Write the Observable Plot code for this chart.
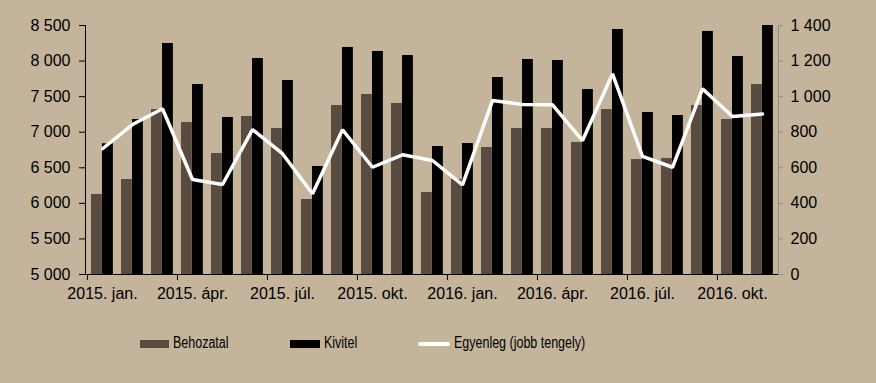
<!DOCTYPE html>
<html>
<head>
<meta charset="utf-8">
<script src="https://cdn.jsdelivr.net/npm/d3@7"></script>
<script src="https://cdn.jsdelivr.net/npm/@observablehq/plot@0.6"></script>
<style>
  html, body { margin: 0; padding: 0; background: #c3b49b; }
  #wrap { position: relative; width: 876px; height: 383px; background: #c3b49b; overflow: hidden; }
  #legend { position: absolute; left: 0; top: 333px; width: 876px; height: 20px;
    font-family: "Liberation Sans", Arial, sans-serif; font-size: 16px; color: #000; }
  .item { position: absolute; top: 0; height: 20px; line-height: 20px; white-space: nowrap; }
  .sw { position: absolute; }
  .txt { position: absolute; top: 0; display: inline-block; transform: scaleX(0.78); transform-origin: left center; }
</style>
</head>
<body>
<div id="wrap">
  <div id="chart"></div>
  <div id="legend"></div>
</div>
<script>
const months = ["2015-01","2015-02","2015-03","2015-04","2015-05","2015-06","2015-07","2015-08","2015-09","2015-10","2015-11","2015-12",
                "2016-01","2016-02","2016-03","2016-04","2016-05","2016-06","2016-07","2016-08","2016-09","2016-10","2016-11"];
const behozatal = [6125, 6335, 7319, 7137, 6701, 7221, 7052, 6054, 7375, 7530, 7404, 6153,
                   6337, 6785, 7052, 7052, 6856, 7319, 6616, 6631, 7375, 7179, 7671];
const kivitel   = [6837, 7179, 8247, 7671, 7207, 8036, 7727, 6518, 8191, 8135, 8078, 6799,
                   6841, 7769, 8022, 8008, 7600, 8444, 7277, 7235, 8416, 8064, 8575];
const egyenleg  = [707, 843, 932, 534, 506, 815, 679, 454, 814, 603, 673, 641,
                   504, 978, 956, 954, 753, 1128, 664, 603, 1044, 888, 903];
const monthNames = ["jan.","febr.","márc.","ápr.","máj.","jún.","júl.","aug.","szept.","okt.","nov.","dec."];
const leftTicks = [5000, 5500, 6000, 6500, 7000, 7500, 8000, 8500];
const rightTicks = [0, 200, 400, 600, 800, 1000, 1200, 1400];
const labelMonths = ["2015-01","2015-04","2015-07","2015-10","2016-01","2016-04","2016-07","2016-10"];
const seriesNames = ["Behozatal", "Kivitel", "Egyenleg (jobb tengely)"];

const colImp = "#5a4b41", colExp = "#000000", colBal = "#ffffff";

const yMin = 5000, yMax = 8500, rMax = 1400;
const toLeft = b => yMin + b * (yMax - yMin) / rMax;
const fromLeft = v => (v - yMin) * rMax / (yMax - yMin);
const fmt = n => d3.format(",")(Math.round(n)).replace(/,/g, "\u00a0");
const monthLabel = m => { const [y, mo] = m.split("-"); return `${y}. ${monthNames[+mo - 1]}`; };

const data = months.map((m, i) => ({m, imp: behozatal[i], exp: kivitel[i], bal: egyenleg[i]}));

const W = 876, H = 320, mL = 85, mR = 98, mT = 25, mB = 46;
const bw = (W - mL - mR) / months.length;
const tickLen = 6 * (yMax - yMin) / (H - mT - mB);

const chart = Plot.plot({
  width: W, height: H,
  marginLeft: mL, marginRight: mR, marginTop: mT, marginBottom: mB,
  style: {background: "transparent", fontFamily: "'Liberation Sans', Arial, sans-serif", fontSize: "16px", color: "#000"},
  x: {type: "band", domain: months, padding: 0, axis: null, label: null},
  y: {domain: [yMin, yMax], axis: null, label: null},
  marks: [
    Plot.barY(data, {x: "m", y1: yMin, y2: "imp", fill: colImp, insetLeft: 4, insetRight: bw - 15, clip: true}),
    Plot.barY(data, {x: "m", y1: yMin, y2: "exp", fill: colExp, insetLeft: 15, insetRight: bw - 26, clip: true}),
    Plot.line(data, {x: "m", y: d => toLeft(d.bal), stroke: colBal, strokeWidth: 3.5, strokeLinejoin: "miter"}),
    Plot.frame({anchor: "left", stroke: "#000"}),
    Plot.frame({anchor: "bottom", stroke: "#000"}),
    Plot.frame({anchor: "right", stroke: "#8c8c8c"}),
    Plot.axisY({anchor: "left", ticks: leftTicks, tickFormat: fmt, tickSize: 6, tickPadding: 9, stroke: "#000", fill: "#000", fontSize: 16, label: null}),
    Plot.axisY({anchor: "right", ticks: rightTicks.map(toLeft), tickFormat: v => fmt(fromLeft(v)), tickSize: 4, tickPadding: 8, stroke: "#8c8c8c", fill: "#000", fontSize: 16, label: null}),
    Plot.ruleX(labelMonths, {x: d => d, y1: yMin, y2: yMin - tickLen, dx: -bw / 2, stroke: "#000"}),
    Plot.axisX({ticks: labelMonths, tickFormat: monthLabel, tickSize: 0, tickPadding: 13, fill: "#000", fontSize: 16, label: null})
  ]
});
document.getElementById("chart").appendChild(chart);

const leg = document.getElementById("legend");
const items = [
  {name: seriesNames[0], x: 140, sw: {w: 29, h: 8, c: colImp}},
  {name: seriesNames[1], x: 290, sw: {w: 30, h: 8, c: colExp}},
  {name: seriesNames[2], x: 418, sw: {w: 32, h: 4, c: colBal, r: 2}}
];
for (const it of items) {
  const d = document.createElement("div");
  d.className = "item";
  d.style.left = it.x + "px";
  const s = document.createElement("div");
  s.className = "sw";
  s.style.left = "0px";
  s.style.top = (11 - it.sw.h / 2) + "px";
  s.style.width = it.sw.w + "px";
  s.style.height = it.sw.h + "px";
  s.style.background = it.sw.c;
  if (it.sw.r) s.style.borderRadius = it.sw.r + "px";
  d.appendChild(s);
  const t = document.createElement("span");
  t.className = "txt";
  t.textContent = it.name;
  t.style.left = (it.sw.w + 4) + "px";
  d.appendChild(t);
  leg.appendChild(d);
}
</script>
</body>
</html>
